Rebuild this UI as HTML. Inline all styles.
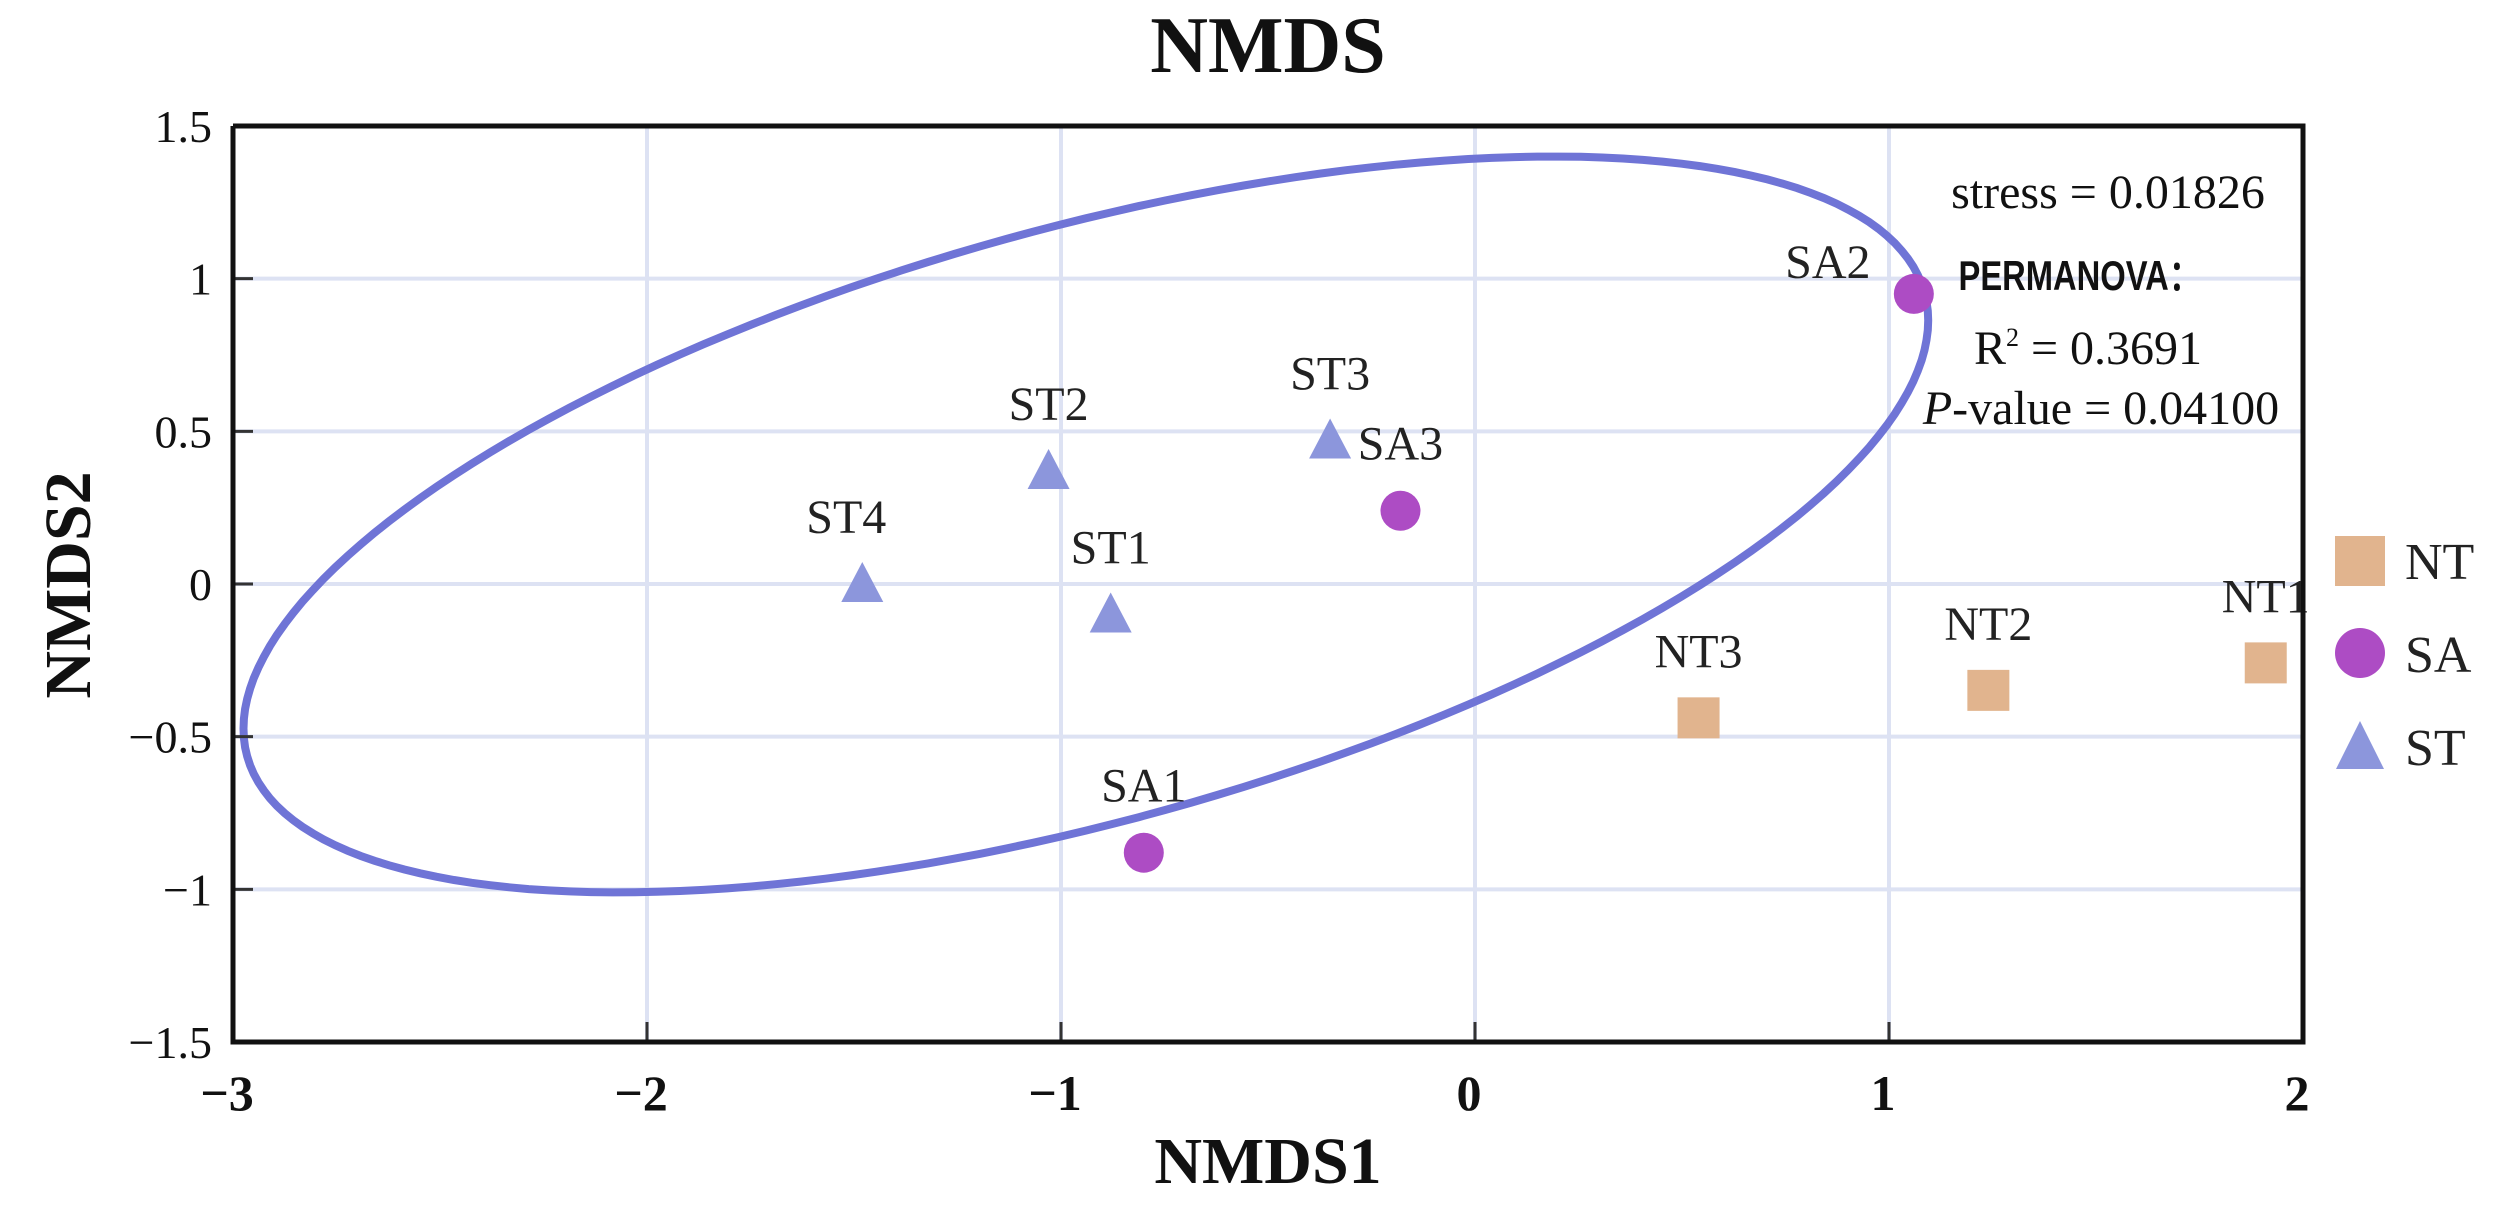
<!DOCTYPE html>
<html><head><meta charset="utf-8"><style>
html,body{margin:0;padding:0;background:#fff;}
svg{display:block;}
text{font-family:"Liberation Serif",serif;}
</style></head><body>
<svg id="chart" width="2493" height="1206" viewBox="0 0 2493 1206" xmlns="http://www.w3.org/2000/svg">
<text x="1268" y="72" text-anchor="middle" font-size="80" font-weight="bold" fill="#111">NMDS</text>
<g id="grid"></g>
<g id="ellipse-layer"></g>
<g id="points"></g>
<g id="axes"></g>
<text x="1268" y="1183" text-anchor="middle" font-size="66" font-weight="bold" fill="#111">NMDS1</text>
<text transform="translate(90,585) rotate(-90)" text-anchor="middle" font-size="66" font-weight="bold" fill="#111">NMDS2</text>
<g>
<text x="2108" y="208" text-anchor="middle" font-size="48" fill="#111">stress = 0.01826</text>
<text x="2080" y="290" text-anchor="middle" font-size="42" font-weight="bold" fill="#111" style="font-family:'Liberation Sans',sans-serif" textLength="243" lengthAdjust="spacingAndGlyphs">PERMANOVA：</text>
<text x="2088" y="364" text-anchor="middle" font-size="48" fill="#111">R<tspan dy="-18" font-size="26">2</tspan><tspan dy="18"> = 0.3691</tspan></text>
<text x="2101" y="424" text-anchor="middle" font-size="48" fill="#111"><tspan font-style="italic">P</tspan>-value = 0.04100</text>
</g>
<g>
<rect x="2335" y="536" width="50" height="50" fill="#e1b48e"/>
<text x="2405" y="579" font-size="52" fill="#222">NT</text>
<circle cx="2360" cy="653" r="25" fill="#ad4cc4"/>
<text x="2405" y="672" font-size="52" fill="#222">SA</text>
<polygon points="2360,721 2384,769 2336,769" fill="#8c96dc"/>
<text x="2405" y="765" font-size="52" fill="#222">ST</text>
</g>
</svg>
<script>
const sampleNames = ["ST1","ST2","ST3","ST4","SA1","SA2","SA3","NT1","NT2","NT3"];
const sampleGroups = ["ST","ST","ST","ST","SA","SA","SA","NT","NT","NT"];
const nmds1 = [-0.88,-1.03,-0.35,-1.48,-0.80,1.06,-0.18,1.91,1.24,0.54];
const nmds2 = [-0.10,0.37,0.47,0.00,-0.88,0.95,0.24,-0.26,-0.35,-0.44];
const xTicks = [-3,-2,-1,0,1,2];
const xTickLabels = ["\u22123","\u22122","\u22121","0","1","2"];
const yTicks = [1.5,1,0.5,0,-0.5,-1,-1.5];
const yTickLabels = ["1.5","1","0.5","0","\u22120.5","\u22121","\u22121.5"];
const ellipseCenter = [-0.94, 0.195];
const ellipseCov = [4.14, 1.36, 1.452]; // sxx, sxy, syy

const NS="http://www.w3.org/2000/svg";
const L=233,R=2303,T=126,B=1042;
const xs=v=>L+(v+3)/5*(R-L);
const ys=v=>B-(v+1.5)/3*(B-T);
function mk(tag,attrs,parent){const e=document.createElementNS(NS,tag);for(const k in attrs)e.setAttribute(k,attrs[k]);parent.appendChild(e);return e;}
const grid=document.getElementById('grid'),axes=document.getElementById('axes'),pts=document.getElementById('points'),el=document.getElementById('ellipse-layer');

xTicks.forEach((t,i)=>{
  const x=xs(t);
  if(t>-3&&t<2){const g=mk('line',{x1:x,x2:x,y1:T,y2:B,stroke:'#dde2f3','stroke-width':4},grid);
  
  }
  const tk=mk('line',{x1:x,x2:x,y1:B,y2:B-20,stroke:'#333','stroke-width':3},axes);
  
  
  const tl=mk('text',{x:x-6,y:1110,'text-anchor':'middle','font-size':50,'font-weight':'bold',fill:'#111'},axes);
  tl.textContent=xTickLabels[i];
  
  
});
yTicks.forEach((t,i)=>{
  const y=ys(t);
  if(t>-1.5&&t<1.5){const g=mk('line',{x1:L,x2:R,y1:y,y2:y,stroke:'#dde2f3','stroke-width':4},grid);
  
  }
  const tk=mk('line',{x1:L,x2:L+20,y1:y,y2:y,stroke:'#333','stroke-width':3},axes);
  
  
  const tl=mk('text',{x:212,y:y+16,'text-anchor':'end','font-size':46,fill:'#111'},axes);
  tl.textContent=yTickLabels[i];
  
  
});
const frame=mk('polyline',{points:`${L},${T} ${R},${T} ${R},${B} ${L},${B} ${L},${T}`,fill:'none',stroke:'#111','stroke-width':5},axes);



const sx=Math.sqrt(ellipseCov[0]),k=ellipseCov[1]/sx,sy=Math.sqrt(ellipseCov[2]-k*k);
let d='';
for(let i=0;i<=200;i++){const a=i/200*2*Math.PI;
  const px=xs(ellipseCenter[0]+sx*Math.cos(a)),py=ys(ellipseCenter[1]+k*Math.cos(a)+sy*Math.sin(a));
  d+=(i?'L':'M')+px.toFixed(1)+','+py.toFixed(1);}
const ep=mk('path',{d:d+'Z',fill:'none',stroke:'#6f74d6','stroke-width':8},el);



const labelOffset={SA2:[-86,-16],ST4:[-16,-51]};
sampleNames.forEach((n,i)=>{
  const x=xs(nmds1[i]),y=ys(nmds2[i]),g=sampleGroups[i];
  let m;
  if(g==='NT') m=mk('rect',{x:x-21,y:y-21,width:42,height:41,fill:'#e1b48e'},pts);
  else if(g==='SA') m=mk('circle',{cx:x,cy:y,r:20,fill:'#ad4cc4'},pts);
  else m=mk('polygon',{points:`${x},${y-22} ${x+21},${y+18} ${x-21},${y+18}`,fill:'#8c96dc'},pts);
  
  
  const o=labelOffset[n]||[0,-51];
  const t=mk('text',{x:x+o[0],y:y+o[1],'text-anchor':'middle','font-size':48,fill:'#222'},pts);
  t.textContent=n;
  
  
});
</script>
</body></html>
